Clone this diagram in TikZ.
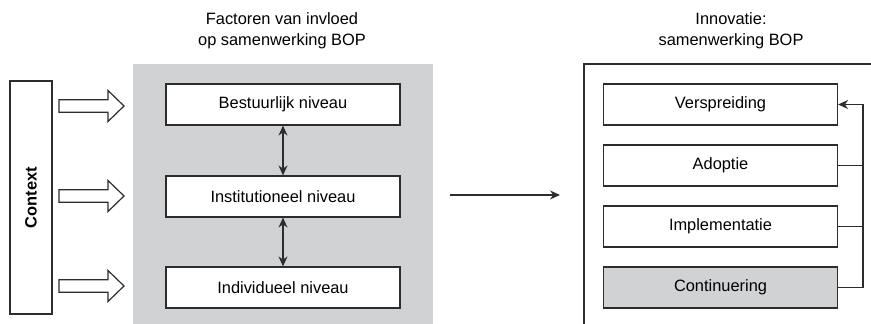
\documentclass[tikz,border=0pt]{standalone}
\usepackage{fontspec}
\setmainfont{Liberation Sans}
\usetikzlibrary{arrows.meta}
\definecolor{bopgray}{RGB}{209,210,212}
\definecolor{bopline}{RGB}{45,45,45}

\begin{document}
\begin{tikzpicture}[x=0.5pt, y=-0.5pt, line width=0.6pt, bopline,
  every node/.style={font=\fontsize{8.2}{10.5}\selectfont, text=black},
  level/.style={draw=bopline, fill=white, minimum width=117pt, minimum height=20.5pt, inner sep=0pt},
  title/.style={align=center},
  tip/.style={-{Stealth[length=5pt, width=4.5pt]}},
  twotip/.style={{Stealth[length=5pt, width=4.5pt]}-{Stealth[length=5pt, width=4.5pt]}}]
\useasboundingbox (0,0) rectangle (871,324);

% achtergrond
\fill[bopgray] (133,64) rectangle (433,324);
\draw (584,324) -- (584,64) -- (871,64);

% titels
\node[title] (tfact) at (282,31) {Factoren van invloed\\op samenwerking BOP};
\node[title] (tinno) at (731,31) {Innovatie:\\samenwerking BOP};

% context
\node[draw=bopline, rotate=90, minimum width=116.5pt, minimum height=21pt, inner sep=0pt,
  font=\fontsize{8.2}{10.5}\selectfont\bfseries] (context) at (31,197.5) {Context};

% factoren
\node[level] (bestuur) at (283,104.5) {Bestuurlijk niveau};
\node[level] (instit) at (283,196.5) {Institutioneel niveau};
\node[level] (indiv) at (283,287.5) {Individueel niveau};
\draw[twotip] (bestuur.south) -- (instit.north);
\draw[twotip] (instit.south) -- (indiv.north);

% holle pijlen
\foreach \y in {106,196,286}
  \draw[fill=white] (59,\y-6.3) -- (108,\y-6.3) -- (108,\y-15.5) -- (124,\y)
    -- (108,\y+15.5) -- (108,\y+6.3) -- (59,\y+6.3) -- cycle;

% naar innovatie
\coordinate (pstart) at (450,195);
\coordinate (pend) at (560,195);
\draw[tip] (pstart) -- (pend);

% innovatie
\node[level] (verspr) at (720.5,104.5) {Verspreiding};
\node[level] (adopt) at (720.5,165.5) {Adoptie};
\node[level] (impl) at (720.5,226.5) {Implementatie};
\node[level, fill=bopgray] (contin) at (720.5,287.5) {Continuering};

\coordinate (fb) at (863,104.5);
\draw (adopt.east) -- (adopt.east -| fb);
\draw (impl.east) -- (impl.east -| fb);
\draw[tip] (contin.east) -- (contin.east -| fb) -- (fb) -- (verspr.east);
\end{tikzpicture}
\end{document}
